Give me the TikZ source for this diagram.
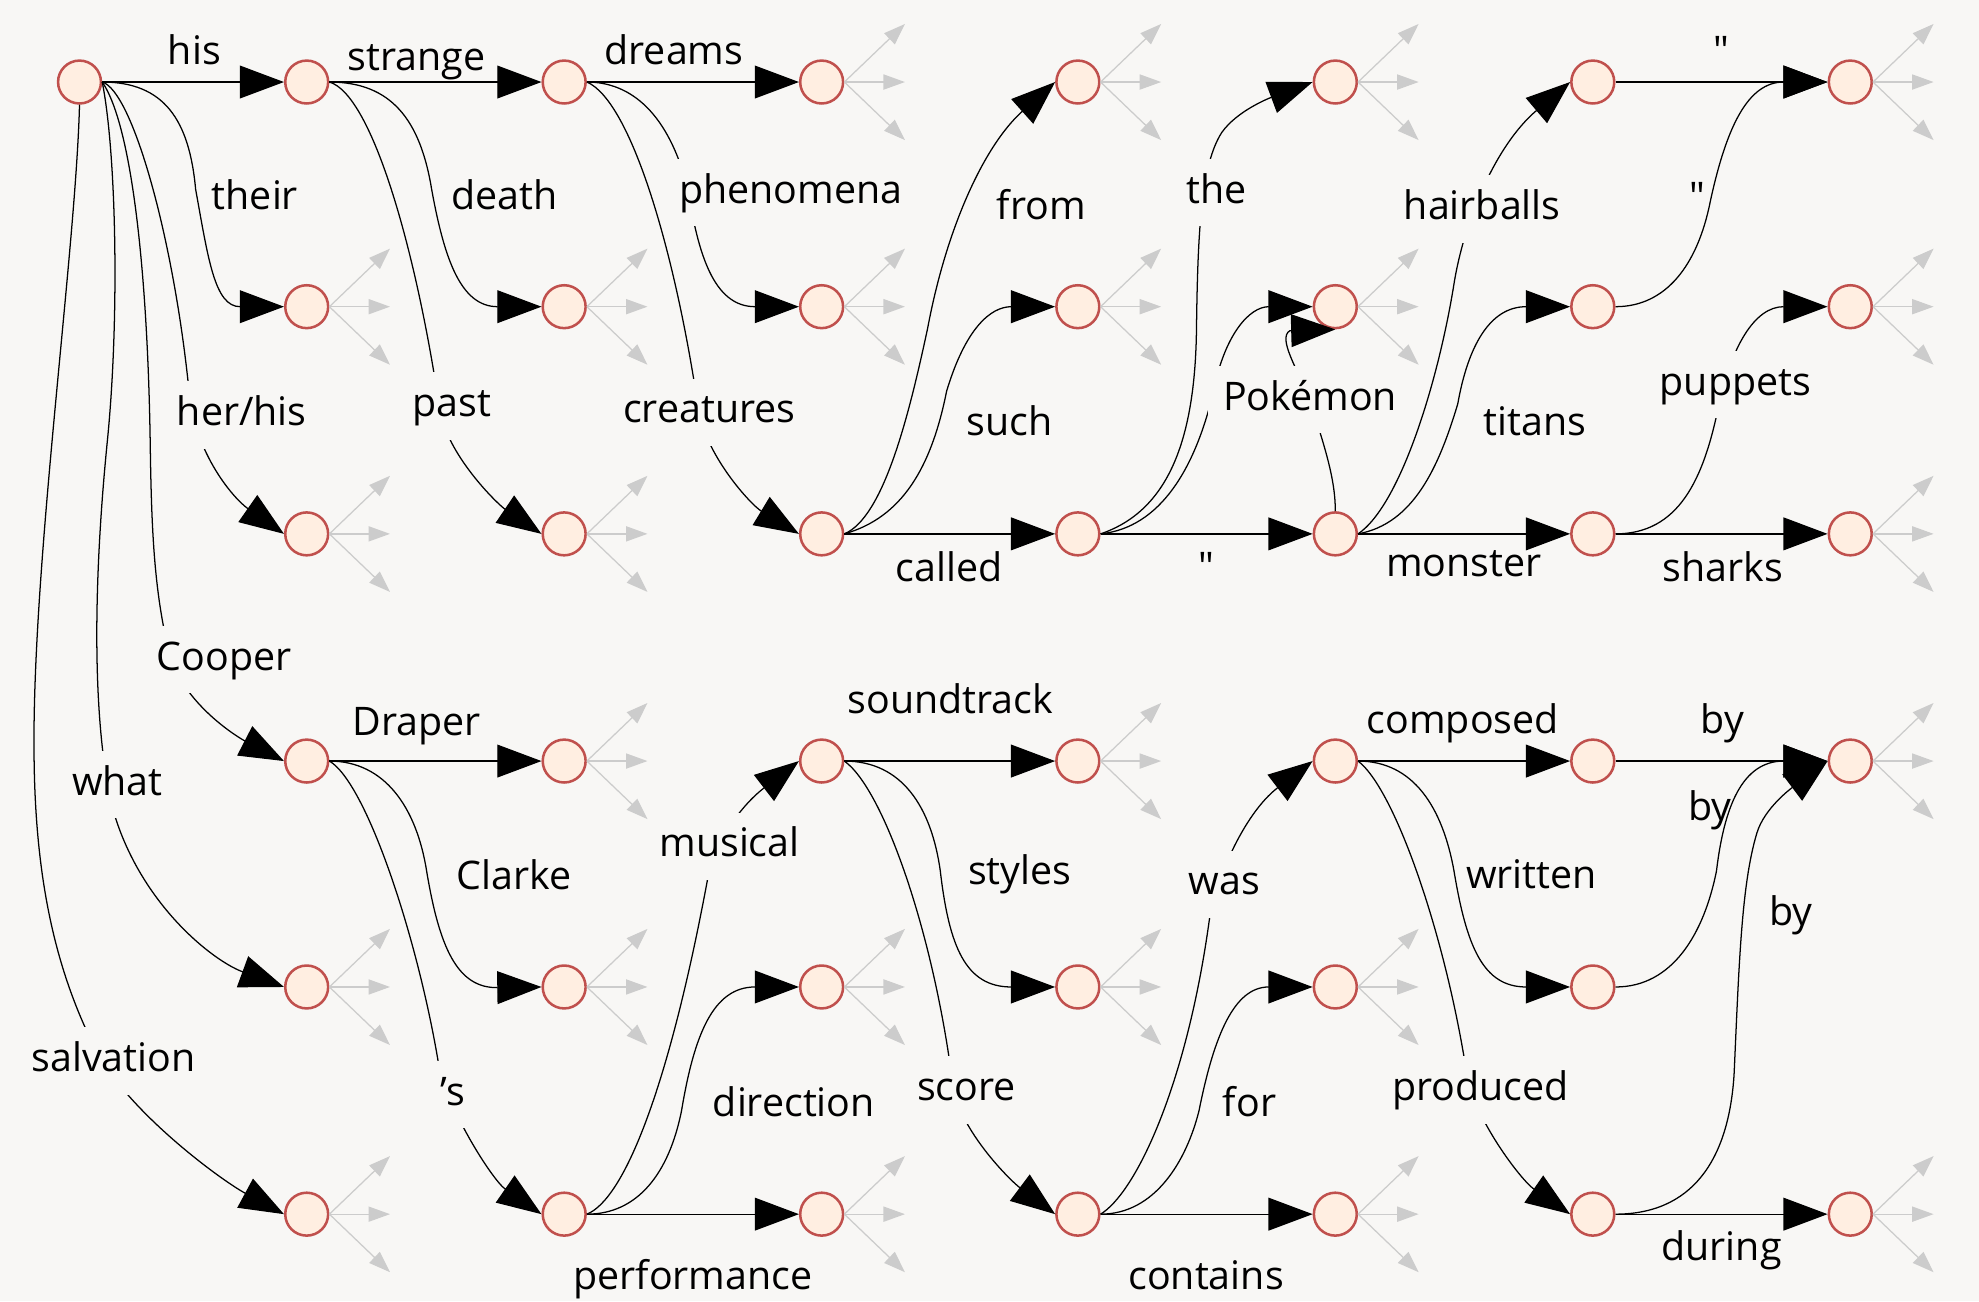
\documentclass[tikz,border=0pt]{standalone}
\usepackage{fontspec}
\setmainfont{Open Sans}
\usetikzlibrary{arrows.meta}
\definecolor{bg}{HTML}{F8F7F5}
\definecolor{tokfill}{HTML}{FFEEE1}
\definecolor{tokdraw}{HTML}{C0504D}
\definecolor{stubgrey}{HTML}{CCCCCC}
% straight ASCII double quote (bypasses the TeX quote mapping)
\newcommand\dq{\XeTeXglyph\XeTeXcharglyph"22\relax}
\begin{document}
\begin{tikzpicture}[x=0.5pt,y=-0.5pt,
  tok/.style={circle,draw=tokdraw,fill=tokfill,line width=1pt,minimum size=17pt,inner sep=0pt},
  link/.style={line width=0.5pt,-{Triangle[length=17.5pt,width=13pt]}},
  stub/.style={draw=stubgrey,line width=0.5pt,-{Triangle[length=8.5pt,width=6pt]}},
  lbl/.style={anchor=base,font=\fontsize{15.6}{18}\selectfont,inner xsep=1.5pt,inner ysep=5.5pt,text height=12pt,text depth=3.7pt},
  cut/.style={lbl,fill=bg},
]
\useasboundingbox (0,0) rectangle (1568,1031);
\fill[bg] (0,0) rectangle (1568,1031);

% ---------- states ----------
\node[tok] (r0c0) at (63,65) {};
\foreach \col/\x in {1/243,2/447,3/651,4/854,5/1058,6/1262,7/1466}
  \foreach \row/\y in {0/65,1/243,2/423,3/603,4/782,5/962}
    {\ifnum\row\col=47\relax\else\node[tok] (r\row c\col) at (\x,\y) {};\fi}

% ---------- unexpanded continuations ----------
\foreach \n in {r0c3,r0c4,r0c5,r0c7,r1c1,r1c2,r1c3,r1c4,r1c5,r1c7,r2c1,r2c2,r2c7,
                r3c2,r3c4,r3c7,r4c1,r4c2,r4c3,r4c4,r4c5,r5c1,r5c3,r5c5,r5c7}
  \foreach \dy in {-46,0,46}
    \draw[stub] (\n.east) -- ++(48,\dy);

% ---------- straight transitions ----------
\draw[link] (r0c0.east) -- (r0c1.west);
\draw[link] (r0c1.east) -- (r0c2.west);
\draw[link] (r0c2.east) -- (r0c3.west);
\draw[link] (r2c3.east) -- (r2c4.west);
\draw[link] (r2c4.east) -- (r2c5.west);
\draw[link] (r2c5.east) -- (r2c6.west);
\draw[link] (r2c6.east) -- (r2c7.west);
\draw[link] (r0c6.east) -- (r0c7.west);
\draw[link] (r3c1.east) -- (r3c2.west);
\draw[link] (r5c2.east) -- (r5c3.west);
\draw[link] (r3c3.east) -- (r3c4.west);
\draw[link] (r5c4.east) -- (r5c5.west);
\draw[link] (r3c5.east) -- (r3c6.west);
\draw[link] (r3c6.east) -- (r3c7.west);
\draw[link] (r5c6.east) -- (r5c7.west);

% ---------- curved transitions ----------
% from the start state
\draw[link] (r0c0.east) .. controls (130,65) and (150,95) .. (155,150)
  .. controls (165,205) and (170,243) .. (r1c1.west);
\draw[link] (r0c0.east) .. controls (105,72) and (138,190) .. (150,312)
  .. controls (155,360) and (185,395) .. (r2c1.west);
\draw[link] (r0c0.east) .. controls (105,100) and (117,220) .. (119,350)
  .. controls (120,420) and (122,470) .. (135,521)
  .. controls (148,560) and (190,585) .. (r3c1.west);
\draw[link] (r0c0.east) .. controls (92,120) and (95,250) .. (85,350)
  .. controls (78,420) and (72,520) .. (82,600)
  .. controls (90,700) and (165,760) .. (r4c1.west);
\draw[link] (r0c0.south) .. controls (60,200) and (25,450) .. (27,600)
  .. controls (28,700) and (45,770) .. (75,830)
  .. controls (100,880) and (175,935) .. (r5c1.west);
% upper half
\draw[link] (r0c1.east) .. controls (310,65) and (333,95) .. (342,150)
  .. controls (352,205) and (365,243) .. (r1c2.west);
\draw[link] (r0c1.east) .. controls (295,75) and (330,200) .. (348,322)
  .. controls (353,360) and (395,400) .. (r2c2.west);
\draw[link] (r0c2.east) .. controls (500,65) and (530,90) .. (545,150)
  .. controls (553,200) and (565,243) .. (r1c3.west);
\draw[link] (r0c2.east) .. controls (500,80) and (535,200) .. (553,322)
  .. controls (558,360) and (595,400) .. (r2c3.west);
\draw[link] (r2c3.east) .. controls (700,410) and (720,330) .. (735,260)
  .. controls (750,180) and (780,115) .. (r0c4.west);
\draw[link] (r2c3.east) .. controls (715,410) and (738,370) .. (750,310)
  .. controls (765,260) and (785,243) .. (r1c4.west);
\draw[link] (r2c4.east) .. controls (925,405) and (947,350) .. (948,260)
  .. controls (949,180) and (952,130) .. (968,105)
  .. controls (980,88) and (1005,78) .. (r0c5.west);
\draw[link] (r2c4.east) .. controls (920,418) and (947,370) .. (961,312)
  .. controls (970,265) and (990,243) .. (r1c5.west);
\draw[link] (r2c5.north) .. controls (1058,380) and (1050,355) .. (1038,318)
  .. controls (1028,292) and (1012,268) .. (1022,262) -- (r1c5.south);
\draw[link] (r2c5.east) .. controls (1110,400) and (1140,300) .. (1152,225)
  .. controls (1160,175) and (1185,115) .. (r0c6.west);
\draw[link] (r2c5.east) .. controls (1120,415) and (1140,370) .. (1155,320)
  .. controls (1163,275) and (1180,243) .. (r1c6.west);
\draw[link] (r1c6.east) .. controls (1320,243) and (1345,210) .. (1355,160)
  .. controls (1368,100) and (1385,65) .. (r0c7.west);
\draw[link] (r2c6.east) .. controls (1330,423) and (1350,380) .. (1362,320)
  .. controls (1372,275) and (1390,243) .. (r1c7.west);
% lower half
\draw[link] (r3c1.east) .. controls (305,603) and (330,640) .. (338,690)
  .. controls (348,750) and (362,783) .. (r4c2.west);
\draw[link] (r3c1.east) .. controls (290,620) and (330,740) .. (347,840)
  .. controls (352,875) and (390,935) .. (r5c2.west);
\draw[link] (r5c2.east) .. controls (495,950) and (530,860) .. (560,700)
  .. controls (565,670) and (585,640) .. (r3c3.west);
\draw[link] (r5c2.east) .. controls (505,962) and (530,930) .. (540,880)
  .. controls (550,820) and (565,782) .. (r4c3.west);
\draw[link] (r3c3.east) .. controls (715,603) and (738,640) .. (745,690)
  .. controls (752,750) and (765,782) .. (r4c4.west);
\draw[link] (r3c3.east) .. controls (700,625) and (740,740) .. (755,860)
  .. controls (760,895) and (800,935) .. (r5c4.west);
\draw[link] (r5c4.east) .. controls (900,945) and (940,860) .. (958,730)
  .. controls (962,700) and (985,645) .. (r3c5.west);
\draw[link] (r5c4.east) .. controls (915,962) and (940,920) .. (950,880)
  .. controls (962,820) and (978,782) .. (r4c5.west);
\draw[link] (r3c5.east) .. controls (1120,603) and (1143,640) .. (1152,690)
  .. controls (1162,750) and (1175,782) .. (r4c6.west);
\draw[link] (r3c5.east) .. controls (1105,625) and (1145,740) .. (1162,850)
  .. controls (1167,885) and (1205,935) .. (r5c6.west);
\draw[link] (r4c6.east) .. controls (1325,782) and (1350,740) .. (1360,690)
  .. controls (1366,640) and (1380,603) .. (r3c7.west);
\draw[link] (r5c6.east) .. controls (1340,962) and (1370,920) .. (1374,850)
  .. controls (1378,760) and (1380,700) .. (1392,660)
  .. controls (1398,640) and (1420,624) .. (r3c7.west);

% ---------- word labels beside the transitions ----------
\node[lbl] (l-his)       at (154,51.5)   {his};
\node[lbl] (l-strange)   at (330,55.5)   {strange};
\node[lbl] (l-dreams)    at (534,51.5)   {dreams};
\node[lbl] (l-their)     at (202,166)    {their};
\node[lbl] (l-death)     at (400,166)    {death};
\node[lbl] (l-from)      at (825,174)    {from};
\node[lbl] (l-such)      at (800,345)    {such};
\node[lbl] (l-titans)    at (1216,345)   {titans};
\node[lbl] (l-q1)        at (1345,167)   {\dq};
\node[lbl] (l-q2)        at (1364,51.5)  {\dq};
\node[lbl] (l-called)    at (752,461)    {called};
\node[lbl] (l-q3)        at (956,460)    {\dq};
\node[lbl] (l-monster)   at (1160,457)   {monster};
\node[lbl] (l-sharks)    at (1365,461)   {sharks};
\node[lbl] (l-draper)    at (330,582.5)  {Draper};
\node[lbl] (l-clarke)    at (407.5,705)  {Clarke};
\node[lbl] (l-sound)     at (753,565)    {soundtrack};
\node[lbl] (l-composed)  at (1159,581)   {composed};
\node[lbl] (l-by1)       at (1364.6,581) {by};
\node[lbl] (l-by2)       at (1355,650)   {by};
\node[lbl] (l-by3)       at (1419,733)   {by};
\node[lbl] (l-direction) at (629,885)    {direction};
\node[lbl] (l-styles)    at (808,701)    {styles};
\node[lbl] (l-for)       at (990,885)    {for};
\node[lbl] (l-written)   at (1213.5,704) {written};
\node[lbl] (l-perf)      at (549,1022)   {performance};
\node[lbl] (l-contains)  at (955.6,1022) {contains};
\node[lbl] (l-during)    at (1364,998.5) {during};

% ---------- word labels sitting on their transitions ----------
\node[cut] (l-herhis)    at (191.6,337)  {her/his};
\node[cut] (l-past)      at (358,330)    {past};
\node[cut] (l-creatures) at (562,335)    {creatures};
\node[cut] (l-cooper)    at (177.6,531)  {Cooper};
\node[cut] (l-what)      at (93,630)     {what};
\node[cut] (l-salvation) at (90,849)     {salvation};
\node[cut] (l-phen)      at (626.5,161)  {phenomena};
\node[cut] (l-the)       at (964,161)    {the};
\node[cut,inner xsep=6pt] (l-pokemon) at (1038,325) {Pokémon};
\node[cut] (l-hairballs) at (1174.4,174) {hairballs};
\node[cut] (l-puppets)   at (1375,313)   {puppets};
\node[cut] (l-s)         at (359,875.6)  {’s};
\node[cut] (l-musical)   at (578,679)    {musical};
\node[cut] (l-score)     at (765.7,872)  {score};
\node[cut] (l-was)       at (970,709)    {was};
\node[cut] (l-produced)  at (1173,872)   {produced};
\end{tikzpicture}
\end{document}
